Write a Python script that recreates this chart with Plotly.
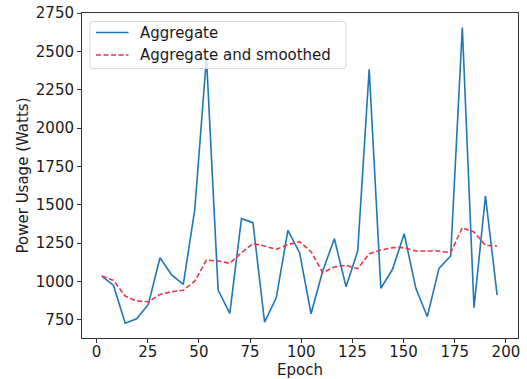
import plotly.graph_objects as go

epochs = [2.6, 8.3, 14.0, 19.6, 25.3, 31.0, 36.7, 42.4, 48.0, 53.7, 59.4, 65.1, 70.8, 76.4,
          82.1, 87.8, 93.5, 99.2, 104.8, 110.5, 116.2, 121.9, 127.6, 133.2, 138.9, 144.6,
          150.3, 156.0, 161.6, 167.3, 173.0, 178.7, 184.4, 190.0, 195.7]
aggregate = [1035, 974, 727, 756, 850, 1154, 1042, 981, 1470, 2460, 944, 792, 1409, 1383,
             735, 893, 1333, 1187, 789, 1068, 1278, 965, 1198, 2383, 955, 1079, 1311, 955,
             770, 1085, 1166, 2655, 828, 1557, 911]
smoothed = [1035, 1007, 905, 872, 867, 915, 933, 942, 1002, 1139, 1133, 1118, 1187, 1246,
            1231, 1209, 1240, 1259, 1194, 1057, 1094, 1105, 1083, 1181, 1205, 1220, 1220,
            1198, 1198, 1198, 1187, 1350, 1322, 1235, 1231]
yticks = [750, 1000, 1250, 1500, 1750, 2000, 2250, 2500, 2750]
xticks = [0, 25, 50, 75, 100, 125, 150, 175, 200]
names = ["Aggregate", "Aggregate and smoothed"]
colors = ["#1f77b4", "#e8354e"]
dashes = ["solid", "5px,2.5px"]

FONT = "DejaVu Sans"
TXT = "#1a1a1a"
W, H = 527, 379
ML, MR, MT, MB = 82, 9, 13, 41
PW, PH = W - ML - MR, H - MT - MB


def px(x):
    return (x - ML) / PW


def py(y):
    return (H - MB - y) / PH


fig = go.Figure()
for yv, nm, c, d in zip([aggregate, smoothed], names, colors, dashes):
    fig.add_trace(go.Scatter(x=epochs, y=yv, mode="lines", name=nm, showlegend=False,
                             line=dict(color=c, width=1.6, dash=d)))

axis_common = dict(showline=True, linecolor="#333333", linewidth=1, mirror=True,
                   ticks="outside", ticklen=4, tickcolor="#333333", showgrid=False,
                   zeroline=False, automargin=False,
                   tickfont=dict(family=FONT, size=15, color=TXT))
fig.update_xaxes(range=[-7.1, 205.9], tickvals=xticks, ticklabelstandoff=-4,
                 title=dict(text="Epoch", font=dict(family=FONT, size=15, color=TXT), standoff=2),
                 **axis_common)
fig.update_yaxes(range=[631, 2750], tickvals=yticks,
                 title=dict(text="Power Usage (Watts)", font=dict(family=FONT, size=15, color=TXT), standoff=3),
                 **axis_common)

# legend box (rounded) drawn manually to match matplotlib style
x0, x1, y0, y1 = px(90), px(346), py(68.5), py(21.5)
rx, ry = 3 / PW, 3 / PH
path = (f"M {x0+rx},{y1} L {x1-rx},{y1} Q {x1},{y1} {x1},{y1-ry} "
        f"L {x1},{y0+ry} Q {x1},{y0} {x1-rx},{y0} L {x0+rx},{y0} "
        f"Q {x0},{y0} {x0},{y0+ry} L {x0},{y1-ry} Q {x0},{y1} {x0+rx},{y1} Z")
shapes = [dict(type="path", xref="paper", yref="paper", path=path,
               fillcolor="rgba(255,255,255,0.8)", line=dict(color="#d6d6d6", width=1),
               layer="above")]
annotations = []
for i, (nm, c, d) in enumerate(zip(names, colors, dashes)):
    yrow = py(32.5 + i * 22.5)
    shapes.append(dict(type="line", xref="paper", yref="paper", x0=px(96), x1=px(128.5),
                       y0=yrow, y1=yrow, line=dict(color=c, width=1.6, dash=d), layer="above"))
    annotations.append(dict(xref="paper", yref="paper", x=px(138), y=yrow, text=nm,
                            showarrow=False, xanchor="left", yanchor="middle",
                            font=dict(family=FONT, size=15, color=TXT)))

fig.update_layout(
    width=W, height=H,
    margin=dict(l=ML, r=MR, t=MT, b=MB),
    plot_bgcolor="white", paper_bgcolor="white",
    font=dict(family=FONT, size=15, color=TXT),
    shapes=shapes, annotations=annotations,
    showlegend=False,
)
fig.write_html("out.html")
